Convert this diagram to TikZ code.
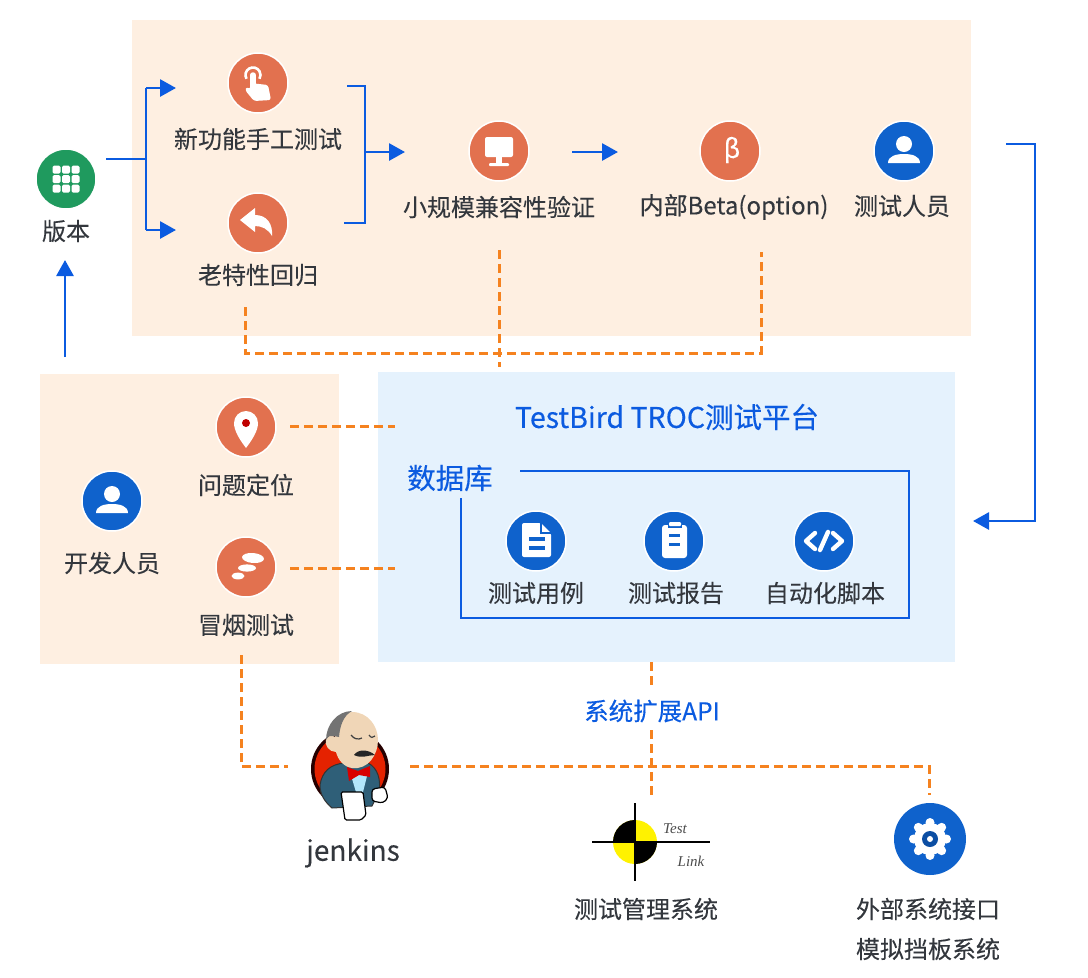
\documentclass[tikz,border=0pt]{standalone}
\usepackage{fontspec}
\setmainfont[FakeBold=0.12]{Noto Sans CJK SC}
\newfontfamily\titlefont[FakeBold=0.35]{Noto Sans CJK SC}
\newfontfamily\testfont{Liberation Serif}
\usetikzlibrary{arrows.meta}
\definecolor{peachbg}{HTML}{FEEFE1}
\definecolor{bluebg}{HTML}{E5F2FD}
\definecolor{linkblue}{HTML}{0B5BE0}
\definecolor{dashorange}{HTML}{F5821F}
\definecolor{iconred}{HTML}{E2714F}
\definecolor{iconblue}{HTML}{0F62CC}
\definecolor{icongreen}{HTML}{1F9A5E}
\definecolor{labelgrey}{HTML}{33373D}
\definecolor{jacket}{HTML}{2F5F78}
\definecolor{skin}{HTML}{F0D6B7}
\tikzset{
  bluelink/.style={draw=linkblue,line width=2.8pt},
  bluearrow/.style={bluelink,-{Triangle[width=17pt,length=16pt]}},
  orangedash/.style={draw=dashorange,line width=3pt,dash pattern=on 9pt off 5pt},
  iconcirc/.style={circle,minimum size=60pt,inner sep=0pt,draw=white,line width=1.5pt,fill=#1},
  itemlabel/.style={font=\fontsize{24}{28}\selectfont,text=labelgrey,inner sep=0pt},
  bluelabel/.style={font=\titlefont\fontsize{#1}{#1}\selectfont,text=linkblue,inner sep=0pt}
}
\begin{document}
\begin{tikzpicture}[x=1pt,y=-1pt]
\useasboundingbox (0,0) rectangle (1088,978);
% Draw background panels
\fill[peachbg] (132,20) rectangle (971,336);
\fill[peachbg] (40,374) rectangle (339,664);
\fill[bluebg] (378,372) rectangle (955,662);

% Define the free ends of the connectors
\coordinate (VerOut) at (106,159);
\coordinate (VerFork) at (146,159);
\coordinate (NewIn) at (176,88);
\coordinate (OldIn) at (176,230);
\coordinate (NewOut) at (347,86);
\coordinate (OldOut) at (344,223);
\coordinate (JoinIn) at (365,152);
\coordinate (SmallIn) at (405,152);
\coordinate (SmallOut) at (572,152);
\coordinate (BetaIn) at (618,152);
\coordinate (TesterOut) at (1006,144);
\coordinate (PlatIn) at (973,521);
\coordinate (DevOut) at (65,357);
\coordinate (VerIn) at (65,260);
\coordinate (OldDown) at (245,307);
\coordinate (BetaDown) at (761,252);
\coordinate (SmallDown) at (499,250);
\coordinate (PlatUp) at (499,367);
\coordinate (LocOut) at (290,426);
\coordinate (LocIn) at (395,426);
\coordinate (SmokeOut) at (290,568);
\coordinate (SmokeIn) at (395,568);
\coordinate (SmokeDown) at (241,655);
\coordinate (JenkIn) at (288,766);
\coordinate (JenkOut) at (410,766);
\coordinate (GearUp) at (929,795);
\coordinate (ApiTop) at (651,662);
\coordinate (ApiBelow) at (651,730);
\coordinate (LinkUp) at (651,796);
\coordinate (DbStart) at (520,471);
\coordinate (DbEnd) at (461,498);

% Draw icon circles
\node[iconcirc=icongreen] (ver) at (66,179) {};
\node[iconcirc=iconred] (new) at (258,83) {};
\node[iconcirc=iconred] (old) at (258,223) {};
\node[iconcirc=iconred] (small) at (499,151) {};
\node[iconcirc=iconred] (beta) at (730,151) {};
\node[iconcirc=iconblue] (tester) at (904,151) {};
\node[iconcirc=iconred] (loc) at (246,427) {};
\node[iconcirc=iconred] (smoke) at (246,567) {};
\node[iconcirc=iconblue] (dev) at (112,501) {};
\node[iconcirc=iconblue] (case) at (536,541) {};
\node[iconcirc=iconblue] (report) at (674,541) {};
\node[iconcirc=iconblue] (script) at (824,541) {};
\node[circle,minimum size=72pt,inner sep=0pt,fill=iconblue] (gear) at (930,839) {};

% Draw labels
\node[itemlabel] (verL) at (66,231) {版本};
\node[itemlabel] (newL) at (258,139) {新功能手工测试};
\node[itemlabel] (oldL) at (258,275) {老特性回归};
\node[itemlabel] (smallL) at (499,207) {小规模兼容性验证};
\node[itemlabel] (betaL) at (734,207) {内部Beta(option)};
\node[itemlabel] (testerL) at (902,206) {测试人员};
\node[itemlabel] (locL) at (246,485) {问题定位};
\node[itemlabel] (smokeL) at (246,625) {冒烟测试};
\node[itemlabel] (devL) at (112,563) {开发人员};
\node[itemlabel] (caseL) at (536,593) {测试用例};
\node[itemlabel] (reportL) at (676,593) {测试报告};
\node[itemlabel] (scriptL) at (825,593) {自动化脚本};
\node[bluelabel=28.5] (platL) at (667,417) {TestBird TROC测试平台};
\node[bluelabel=28.5] (dbL) at (450,478) {数据库};
\node[bluelabel=24.5] (apiL) at (652,711) {系统扩展API};
\node[itemlabel,font=\fontsize{28}{32}\selectfont] (jenkL) at (353,853) {jenkins};
\node[itemlabel] (linkL) at (646,909) {测试管理系统};
\node[itemlabel] (extA) at (928,909) {外部系统接口};
\node[itemlabel] (extB) at (928,949) {模拟挡板系统};

% Draw blue connectors
\draw[bluelink] (VerOut) -- (VerFork);
\draw[bluearrow] (NewIn -| VerFork) -- (NewIn);
\draw[bluelink] (NewIn -| VerFork) -- (OldIn -| VerFork);
\draw[bluearrow] (OldIn -| VerFork) -- (OldIn);
\draw[bluelink] (NewOut) -- (NewOut -| JoinIn) -- (OldOut -| JoinIn) -- (OldOut);
\draw[bluearrow] (JoinIn) -- (SmallIn);
\draw[bluearrow] (SmallOut) -- (BetaIn);
\draw[bluearrow] (TesterOut) -- (1035,144) -- (1035,521) -- (PlatIn);
\draw[bluearrow] (DevOut) -- (VerIn);
\draw[bluelink] (DbStart) -- (909,471) -- (909,618) -- (461,618) -- (DbEnd);

% Draw orange dashed connectors
\draw[orangedash] (OldDown) -- (245,353) -- (761,353) -- (BetaDown);
\draw[orangedash] (SmallDown) -- (PlatUp);
\draw[orangedash] (LocOut) -- (LocIn);
\draw[orangedash] (SmokeOut) -- (SmokeIn);
\draw[orangedash] (SmokeDown) -- (241,766) -- (JenkIn);
\draw[orangedash] (JenkOut) -- (929,766) -- (GearUp);
\draw[orangedash] (ApiTop) -- (651,686);
\draw[orangedash] (ApiBelow) -- (LinkUp);

% Grid icon
\foreach \i in {-1,0,1}
  \foreach \j in {-1,0,1}
    \fill[white,rounded corners=1.5pt] (66+9.5*\i-4,179+9.5*\j-4) rectangle ++(8,8);

% Hand icon
\draw[white,line width=2.6pt] (253,75) ++(150:7.5) arc (150:390:7.5);
\draw[white,line width=5.5pt,line cap=round] (253,75) -- (253,90);
\fill[white,rounded corners=2.5pt] (250,83) -- (268,85) -- (271,100) -- (254,101) -- (245,90) -- (247,87) -- (251,89) -- cycle;

% Back arrow icon
\fill[white] (240,220) -- (255,208) -- (255,215) .. controls (267,215) and (273,224) .. (272,236) .. controls (268,229) and (262,226) .. (255,226) -- (255,232) -- cycle;

% Monitor icon
\fill[white,rounded corners=2pt] (485,137) rectangle (513,157);
\fill[white] (496,157) rectangle (502,164);
\fill[white,rounded corners=1pt] (489,163) rectangle (509,166);

% Beta icon
\node[font=\titlefont\fontsize{26}{26}\selectfont,text=white,inner sep=0pt] (betaSym) at (732,150) {β};

% Person icons
\foreach \px/\py in {904/151,112/501} {
  \fill[white] (\px,\py-7) circle (8);
  \fill[white] (\px-16,\py+12) .. controls (\px-16,\py+5) and (\px-8,\py+3) .. (\px,\py+3) .. controls (\px+8,\py+3) and (\px+16,\py+5) .. (\px+16,\py+12) -- cycle;
}

% Pin icon
\fill[white] (246,448) .. controls (240,440) and (234,431) .. (234,423) arc (180:360:12) .. controls (258,431) and (252,440) .. (246,448) -- cycle;
\fill[red!75!black] (246,423) circle (4);

% Smoke icon
\fill[white,rotate around={-5:(253,558)}] (253,558) ellipse (11 and 5);
\fill[white] (247,568) ellipse (9 and 3.6);
\fill[white] (238,576) ellipse (6.5 and 3.4);

% Document icon
\fill[white,rounded corners=2pt] (522,523) -- (541,523) -- (551,533) -- (551,557) -- (522,557) -- cycle;
\fill[iconblue] (529,537) rectangle (545,540.5);
\fill[iconblue] (529,546) rectangle (545,549.5);
\draw[iconblue,line width=1.2pt] (541,523) -- (541,533) -- (551,533);

% Clipboard icon
\fill[white,rounded corners=3pt] (662,525) rectangle (687,558);
\fill[iconblue] (668,523.5) rectangle (682,528);
\fill[white,rounded corners=1pt] (669,522) rectangle (681,526);
\fill[iconblue] (669,534) rectangle (680,537);
\fill[iconblue] (669,543) rectangle (680,546);

% Code icon
\draw[white,line width=4.4pt,line cap=round,line join=round] (815,533) -- (806,541) -- (815,549);
\draw[white,line width=4.4pt,line cap=round,line join=round] (833,533) -- (842,541) -- (833,549);
\draw[white,line width=4.4pt,line cap=round] (828,532) -- (820,550);

% Gear icon
\foreach \a in {0,45,...,315}
  \fill[white] (930,839) ++(\a:16.5) circle (4.5);
\fill[white] (930,839) circle (16);
\fill[iconblue!80!black] (930,839) circle (8);
\fill[white] (930,839) circle (3);

% Jenkins figure
\fill[black!85!red] (350,769) circle (39);
\fill[red!70!orange!90!black] (350,769) circle (35.5);
\fill[jacket,draw=black!80,line width=1pt] (320,785) .. controls (322,772) and (330,764) .. (345,763) -- (368,763) .. controls (378,768) and (381,780) .. (379,792) -- (372,806) -- (332,808) .. controls (325,802) and (320,795) .. (320,785) -- cycle;
\fill[cyan!30] (350,772) -- (368,772) -- (363,792) -- (356,792) -- cycle;
\fill[skin] (352,712) .. controls (368,712) and (378,726) .. (378,740) .. controls (378,755) and (368,770) .. (352,768) .. controls (344,767) and (338,760) .. (336,752) .. controls (329,752) and (324,745) .. (326,739) .. controls (328,735) and (332,735) .. (335,737) .. controls (335,725) and (340,712) .. (352,712) -- cycle;
\fill[black!55] (326,740) .. controls (326,725) and (337,711) .. (352,711) .. controls (343,716) and (340,726) .. (339,737) -- (334,736) .. controls (331,735) and (328,736) .. (326,740) -- cycle;
\fill[black!85] (354,755) .. controls (358,749) and (368,749) .. (375,755) .. controls (368,755) and (362,759) .. (354,755) -- cycle;
\draw[black!75,line width=1.2pt] (351,735) .. controls (354,739) and (358,740) .. (362,738);
\draw[black!75,line width=1.2pt] (369,735) .. controls (371,738) and (373,738) .. (375,736);
\fill[red!85!black] (347,767) -- (358,771) -- (370,766) -- (370,777) -- (359,775) -- (349,781) -- cycle;
\fill[white,draw=black,line width=1.2pt,rounded corners=1.5pt] (341,792) -- (363,792) -- (366,815) -- (361,820) -- (345,820) -- cycle;
\fill[white,draw=black,line width=1.2pt,rounded corners=3pt] (372,789) -- (385,787) -- (388,798) -- (383,803) -- (372,801) -- cycle;

% TestLink mark
\fill[yellow] (635,842) circle (22);
\fill[black] (635,842) -- (613,842) arc (180:270:22) -- cycle;
\fill[black] (635,842) -- (657,842) arc (0:90:22) -- cycle;
\draw[black,line width=2pt] (592,842) -- (710,842);
\draw[black,line width=2pt] (635,803) -- (635,881);
\node[font=\testfont\itshape\fontsize{15}{15}\selectfont,text=black!70,inner sep=0pt] (testT) at (675,829) {Test};
\node[font=\testfont\itshape\fontsize{15}{15}\selectfont,text=black!70,inner sep=0pt] (linkT) at (691,861) {Link};
\end{tikzpicture}
\end{document}
